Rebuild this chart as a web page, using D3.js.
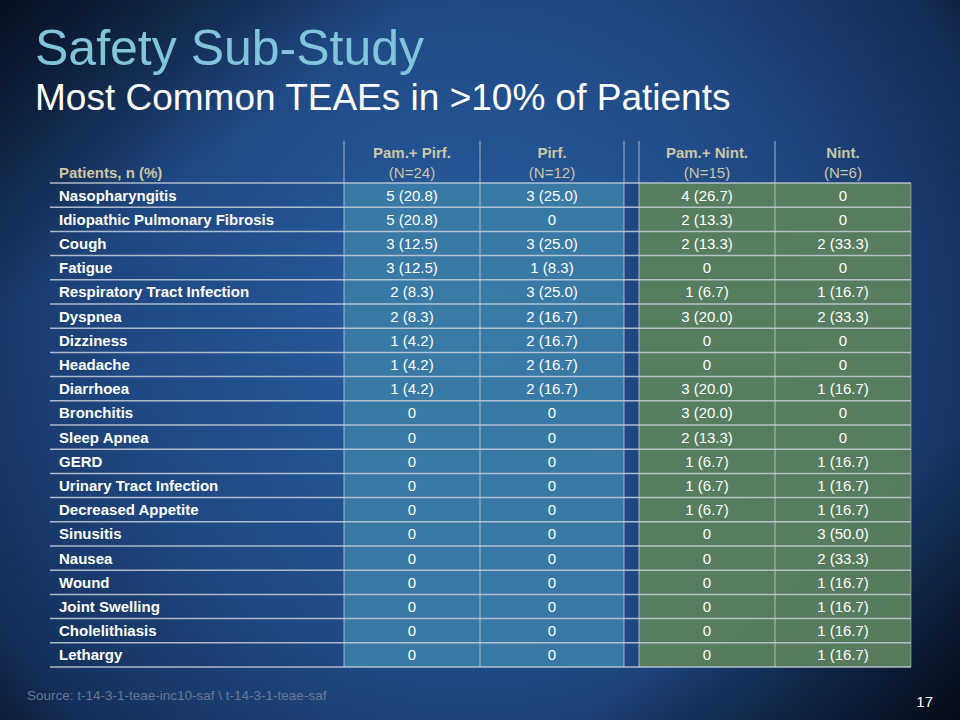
<!DOCTYPE html>
<html><head><meta charset="utf-8">
<script src="https://cdn.jsdelivr.net/npm/d3@7"></script>
<style>html,body{margin:0;padding:0;background:#0c1a33;}svg{display:block;}</style>
</head><body>
<script>
const title = "Safety Sub-Study";
const subtitle = "Most Common TEAEs in >10% of Patients";
const rowHeader = "Patients, n (%)";
const groups = ["Pam.+ Pirf.", "Pirf.", "Pam.+ Nint.", "Nint."];
const groupN = ["(N=24)", "(N=12)", "(N=15)", "(N=6)"];
const events = ["Nasopharyngitis","Idiopathic Pulmonary Fibrosis","Cough","Fatigue","Respiratory Tract Infection","Dyspnea","Dizziness","Headache","Diarrhoea","Bronchitis","Sleep Apnea","GERD","Urinary Tract Infection","Decreased Appetite","Sinusitis","Nausea","Wound","Joint Swelling","Cholelithiasis","Lethargy"];
const pamPirf = ["5 (20.8)","5 (20.8)","3 (12.5)","3 (12.5)","2 (8.3)","2 (8.3)","1 (4.2)","1 (4.2)","1 (4.2)","0","0","0","0","0","0","0","0","0","0","0"];
const pirf = ["3 (25.0)","0","3 (25.0)","1 (8.3)","3 (25.0)","2 (16.7)","2 (16.7)","2 (16.7)","2 (16.7)","0","0","0","0","0","0","0","0","0","0","0"];
const pamNint = ["4 (26.7)","2 (13.3)","2 (13.3)","0","1 (6.7)","3 (20.0)","0","0","3 (20.0)","3 (20.0)","2 (13.3)","1 (6.7)","1 (6.7)","1 (6.7)","0","0","0","0","0","0"];
const nint = ["0","0","2 (33.3)","0","1 (16.7)","2 (33.3)","0","0","1 (16.7)","0","0","1 (16.7)","1 (16.7)","1 (16.7)","3 (50.0)","2 (33.3)","1 (16.7)","1 (16.7)","1 (16.7)","1 (16.7)"];
const source = "Source: t-14-3-1-teae-inc10-saf \\ t-14-3-1-teae-saf";
const pageNo = "17";

const W = 960, H = 720;
const svg = d3.select("body").append("svg").attr("width", W).attr("height", H);
const defs = svg.append("defs");
const rg = defs.append("radialGradient").attr("id","bg").attr("gradientUnits","userSpaceOnUse")
  .attr("cx",470).attr("cy",330).attr("r",640);
rg.append("stop").attr("offset","0%").attr("stop-color","#2a5fa3");
rg.append("stop").attr("offset","55%").attr("stop-color","#1e4882");
rg.append("stop").attr("offset","85%").attr("stop-color","#142f5a");
rg.append("stop").attr("offset","100%").attr("stop-color","#0a1326");
svg.append("rect").attr("width",W).attr("height",H).attr("fill","url(#bg)");
const lg = defs.append("linearGradient").attr("id","diag").attr("x1","0").attr("y1","0").attr("x2","1").attr("y2","1");
lg.append("stop").attr("offset","0%").attr("stop-color","#050a14").attr("stop-opacity",0.8);
lg.append("stop").attr("offset","22%").attr("stop-color","#050a14").attr("stop-opacity",0.0);
lg.append("stop").attr("offset","80%").attr("stop-color","#050a14").attr("stop-opacity",0.0);
lg.append("stop").attr("offset","100%").attr("stop-color","#050a14").attr("stop-opacity",0.8);
svg.append("rect").attr("width",W).attr("height",H).attr("fill","url(#diag)");

const font = "'Liberation Sans', Arial, Helvetica, sans-serif";
svg.append("text").attr("x",35).attr("y",65).text(title)
  .attr("font-family",font).attr("font-size",50).attr("fill","#80c5da");
svg.append("text").attr("x",35).attr("y",110).text(subtitle)
  .attr("font-family",font).attr("font-size",37).attr("fill","#ffffff");

// table layout
const tableLeft = 50, tableRight = 911, headTop = 141, bodyTop = 183, bodyBottom = 667;
const colEdges = [[344,480],[480,624],[639,775],[775,911]];
const gap = [624,639];
const colData = [pamPirf, pirf, pamNint, nint];
const colFill = ["#3a7ba7","#3a7ba7","#5b7f5d","#5b7f5d"];

const y = d3.scaleBand().domain(events).range([bodyTop, bodyBottom]).padding(0);

colEdges.forEach((c,i)=>{
  svg.append("rect").attr("x",c[0]).attr("y",bodyTop).attr("width",c[1]-c[0]).attr("height",bodyBottom-bodyTop)
    .attr("fill",colFill[i]).attr("opacity",0.95);
});
svg.append("rect").attr("x",gap[0]).attr("y",bodyTop).attr("width",gap[1]-gap[0]).attr("height",bodyBottom-bodyTop)
  .attr("fill","#1f4883");

const hLines = [bodyTop].concat(events.map(e=>y(e)+y.bandwidth()));
svg.selectAll("line.h").data(hLines).join("line").attr("class","h")
  .attr("x1",tableLeft).attr("x2",tableRight).attr("y1",d=>d).attr("y2",d=>d)
  .attr("stroke","#c8d0da").attr("stroke-width",1.5).attr("opacity",0.85);

const vLines = [344,480,624,639,775];
svg.selectAll("line.v").data(vLines).join("line").attr("class","v")
  .attr("x1",d=>d).attr("x2",d=>d).attr("y1",headTop).attr("y2",bodyBottom)
  .attr("stroke","#c8d0da").attr("stroke-width",1).attr("opacity",0.8);
svg.append("line").attr("x1",tableRight).attr("x2",tableRight).attr("y1",bodyTop).attr("y2",bodyBottom)
  .attr("stroke","#c8d0da").attr("stroke-width",1).attr("opacity",0.5);

const headColor = "#cdc6a6";
const fs = 15;
svg.append("text").attr("x",59).attr("y",178).text(rowHeader)
  .attr("font-family",font).attr("font-size",fs).attr("font-weight","bold").attr("fill",headColor);
colEdges.forEach((c,i)=>{
  const cx = (c[0]+c[1])/2;
  svg.append("text").attr("x",cx).attr("y",158).attr("text-anchor","middle").text(groups[i])
    .attr("font-family",font).attr("font-size",fs).attr("font-weight","bold").attr("fill",headColor);
  svg.append("text").attr("x",cx).attr("y",178).attr("text-anchor","middle").text(groupN[i])
    .attr("font-family",font).attr("font-size",fs).attr("fill",headColor);
});

svg.selectAll("text.lab").data(events).join("text").attr("class","lab")
  .attr("x",59).attr("y",d=>y(d)+y.bandwidth()/2+5.5).text(d=>d)
  .attr("font-family",font).attr("font-size",fs).attr("font-weight","bold").attr("fill","#ffffff");

colData.forEach((arr,i)=>{
  const cx = (colEdges[i][0]+colEdges[i][1])/2;
  svg.selectAll("text.v"+i).data(arr).join("text").attr("class","v"+i)
    .attr("x",cx).attr("y",(d,j)=>y(events[j])+y.bandwidth()/2+5.5).attr("text-anchor","middle").text(d=>d)
    .attr("font-family",font).attr("font-size",fs).attr("fill","#ffffff");
});

svg.append("text").attr("x",27).attr("y",700).text(source)
  .attr("font-family",font).attr("font-size",13.5).attr("fill","#687a94");
svg.append("text").attr("x",933).attr("y",707).attr("text-anchor","end").text(pageNo)
  .attr("font-family",font).attr("font-size",15).attr("fill","#ffffff");
</script>
</body></html>
